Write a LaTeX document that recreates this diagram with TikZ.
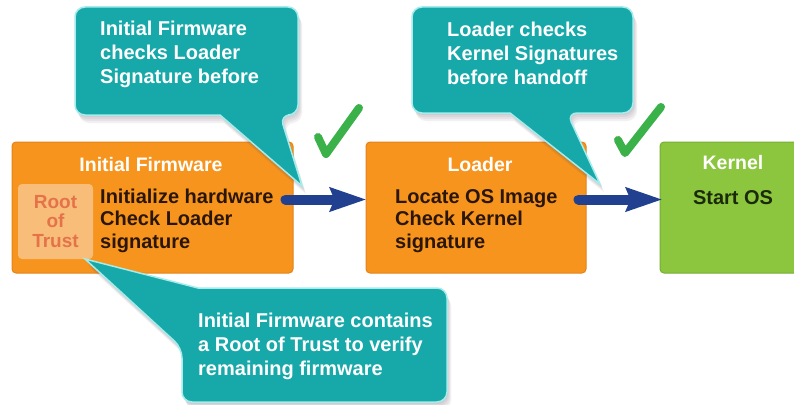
\documentclass[tikz,border=0pt]{standalone}
\usepackage{fontspec}
\setmainfont{Liberation Sans}
\usetikzlibrary{arrows.meta}
\definecolor{boxorange}{HTML}{F7941D}
\definecolor{boxorangeedge}{HTML}{E5831A}
\definecolor{rotfill}{HTML}{F9BD7A}
\definecolor{rottext}{HTML}{E5734A}
\definecolor{kgreen}{HTML}{8CC63F}
\definecolor{kgreenedge}{HTML}{76AE33}
\definecolor{calteal}{HTML}{17A9A9}
\definecolor{caledge}{HTML}{A5ECEC}
\definecolor{arrblue}{HTML}{21408F}
\definecolor{checkgreen}{HTML}{3BB14A}
\definecolor{bodytext}{HTML}{2A1606}
\definecolor{kbodytext}{HTML}{1B2A08}
\definecolor{shadowc}{HTML}{5A4A5A}
\begin{document}
\begin{tikzpicture}[x=1pt,y=-1pt,
  stagebox/.style={draw=boxorangeedge, fill=boxorange, line width=1pt, rounded corners=4pt, inner sep=0pt},
  kernelbox/.style={draw=kgreenedge, fill=kgreen, line width=1pt, rounded corners=4pt, inner sep=0pt},
  rotbox/.style={fill=rotfill, rounded corners=4pt, inner sep=0pt, text=rottext, align=center,
    font=\bfseries\fontsize{19}{19.5}\selectfont},
  titletext/.style={text=white, font=\bfseries\fontsize{19.5}{22}\selectfont, inner sep=0pt},
  bodytxt/.style={text=bodytext, font=\bfseries\fontsize{20}{22.5}\selectfont, align=left, inner sep=0pt, anchor=west},
  caltext/.style={text=white, font=\bfseries\fontsize{20}{24}\selectfont, align=left, inner sep=0pt, anchor=west},
  calshape/.style={fill=calteal, draw=caledge, line width=1.5pt},
  calshadow/.style={fill=shadowc, opacity=0.08},
  flow/.style={draw=arrblue, line width=10pt, line cap=round, -{Stealth[length=36pt,width=23pt,inset=4pt]}},
  tick/.style={draw=checkgreen, line width=8pt, line cap=round, line join=round}
]
\useasboundingbox (0,0) rectangle (794,404);
\fill[white] (0,0) rectangle (794,404);

% stage boxes
\node[stagebox, minimum width=281pt, minimum height=131pt] (fw) at (152.5,207.5) {};
\node[stagebox, minimum width=220pt, minimum height=131pt] (loader) at (476,207.5) {};
\node[kernelbox, minimum width=140pt, minimum height=131pt] (kernel) at (730,207.5) {};

% root of trust
\node[rotbox, minimum width=75pt, minimum height=75pt] (rot) at (55.5,221.5) {Root\\of\\Trust};

% titles
\node[titletext] (fwtitle) at (151,165) {Initial Firmware};
\node[titletext] (ldtitle) at (480,165) {Loader};
\node[titletext] (kntitle) at (733,163) {Kernel};

% bodies
\node[bodytxt] (fwbody) at (100,220.5) {Initialize hardware\\Check Loader\\signature};
\node[bodytxt] (ldbody) at (395,221) {Locate OS Image\\Check Kernel\\signature};
\node[bodytxt, text=kbodytext, anchor=center] (knbody) at (733,198) {Start OS};

% arrows
\draw[flow] ([shift={(-8,-8)}]fw.east) -- ([shift={(1,-8)}]loader.west);
\draw[flow] ([shift={(-8,-8)}]loader.east) -- ([shift={(3,-8)}]kernel.west);

% check marks
\draw[tick] (318,137) -- (326,154) -- (359,108);
\draw[tick] (618,140) -- (625,153) -- (661,107);

% callout 1
\foreach \d in {2,4,6,8} {
  \fill[calshadow, shift={(\d*0.5,\d)}] [rounded corners=10pt] (75,7) -- (298,7) -- (298,115) -- (280,115) [sharp corners] -- (302,186) -- (220,115) [rounded corners=10pt] -- (75,115) -- cycle;
}
\path[calshape] [rounded corners=10pt] (75,7) -- (298,7) -- (298,115) -- (280,115) [sharp corners] -- (302,186) -- (220,115) [rounded corners=10pt] -- (75,115) -- cycle;
\node[caltext] (c1text) at (100,54) {Initial Firmware\\checks Loader\\Signature before};

% callout 2
\foreach \d in {2,4,6,8} {
  \fill[calshadow, shift={(\d*0.5,\d)}] [rounded corners=10pt] (412,7) -- (633,7) -- (633,113) -- (567,113) [sharp corners] -- (600,184) -- (510,113) [rounded corners=10pt] -- (412,113) -- cycle;
}
\path[calshape] [rounded corners=10pt] (412,7) -- (633,7) -- (633,113) -- (567,113) [sharp corners] -- (600,184) -- (510,113) [rounded corners=10pt] -- (412,113) -- cycle;
\node[caltext] (c2text) at (447,53) {Loader checks\\Kernel Signatures\\before handoff};

% callout 3
\foreach \d in {2,4,6,8} {
  \fill[calshadow, shift={(\d*0.5,\d)}] [rounded corners=10pt] (320,288) -- (447,288) -- (447,402) -- (182,402) -- (182,348) [sharp corners] -- (85,259) -- (198,288) [rounded corners=10pt] -- cycle;
}
\path[calshape] [rounded corners=10pt] (320,288) -- (447,288) -- (447,402) -- (182,402) -- (182,348) [sharp corners] -- (85,259) -- (198,288) [rounded corners=10pt] -- cycle;
\node[caltext] (c3text) at (198,346) {Initial Firmware contains\\a Root of Trust to verify\\remaining firmware};
\end{tikzpicture}
\end{document}
